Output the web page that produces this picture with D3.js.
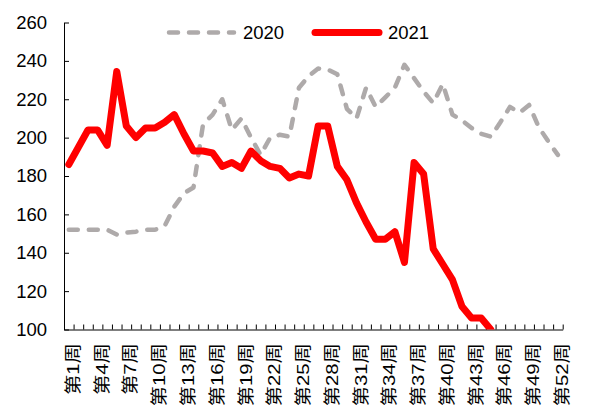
<!DOCTYPE html>
<html lang="zh">
<head>
<meta charset="utf-8">
<title>2020 vs 2021</title>
<script src="https://cdn.jsdelivr.net/npm/d3@7/dist/d3.min.js"></script>
<style>
  body { margin: 0; background: #fff; }
  svg text { font-family: "Liberation Sans", Arial, "Noto Sans CJK SC", sans-serif; fill: #000; }
</style>
</head>
<body>
<svg width="589" height="405"></svg>
<script>
// categories: weeks
var weeks = ["第1周","第2周","第3周","第4周","第5周","第6周","第7周","第8周","第9周","第10周",
  "第11周","第12周","第13周","第14周","第15周","第16周","第17周","第18周","第19周","第20周",
  "第21周","第22周","第23周","第24周","第25周","第26周","第27周","第28周","第29周","第30周",
  "第31周","第32周","第33周","第34周","第35周","第36周","第37周","第38周","第39周","第40周",
  "第41周","第42周","第43周","第44周","第45周","第46周","第47周","第48周","第49周","第50周",
  "第51周","第52周"];

var weekLabels = ["第1周","第4周","第7周","第10周","第13周","第16周","第19周","第22周","第25周",
  "第28周","第31周","第34周","第37周","第40周","第43周","第46周","第49周","第52周"];

var yTicks = [100, 120, 140, 160, 180, 200, 220, 240, 260];

var series2020 = [152, 152, 152, 152, 152, 149.5, 150.5, 151, 152, 152,
  154, 164, 171, 174, 207, 212, 220, 204, 210, 200,
  191, 200, 201.5, 200.5, 226, 232, 236, 235.5, 233, 215,
  210, 226, 216, 221, 226, 238, 231, 224, 218, 228,
  212, 209, 205, 202, 200.5, 208, 216, 213, 217, 205.5,
  198, 191];

var series2021 = [186, 195, 204, 204, 196, 234.5, 206, 200, 205, 205,
  208, 212, 202, 193, 193, 192, 185, 187, 184, 193,
  188, 185, 184, 179, 181, 180, 206, 206, 185, 178,
  166, 156, 147, 147, 151, 135, 187, 181, 142, 134,
  126, 112, 106, 106, 100];

var svg = d3.select("svg");
var plotLeft = 64, plotRight = 562.7, plotTop = 22.5, plotBottom = 329.5;

var x = d3.scaleBand().domain(weeks).range([plotLeft, plotRight]).padding(0);
var xb = d3.scaleLinear().domain([0, weeks.length]).range([plotLeft, plotRight]);
var y = d3.scaleLinear().domain([100, 260]).range([plotBottom, plotTop]);
var cx = function(w) { return x(w) + x.bandwidth() / 2; };

svg.append("defs").append("clipPath").attr("id", "plot")
  .append("rect").attr("x", plotLeft).attr("y", 0)
  .attr("width", plotRight - plotLeft + 10).attr("height", plotBottom);

// y axis, ticks inside
var gy = svg.append("g")
  .attr("transform", "translate(" + plotLeft + ",0)")
  .call(d3.axisLeft(y).tickValues(yTicks).tickSizeInner(-5).tickSizeOuter(0).tickPadding(17));
gy.selectAll("text").attr("font-size", "18.5px").attr("font-family", null);
gy.selectAll("line, path").attr("stroke", "#000");

// x axis, tick marks between categories
var gx = svg.append("g")
  .attr("transform", "translate(0," + plotBottom + ")")
  .call(d3.axisBottom(xb).tickValues(d3.range(0, weeks.length + 1)).tickSizeInner(-5).tickSizeOuter(0).tickFormat(""));
gx.selectAll("line, path").attr("stroke", "#000");

svg.append("g").selectAll("text")
  .data(weekLabels)
  .enter().append("text")
  .attr("transform", function(d) { return "translate(" + (cx(d) + 4) + ",343) rotate(-90) scale(1.2,1)"; })
  .attr("text-anchor", "end")
  .attr("dy", "0.36em")
  .attr("font-size", "17px")
  .text(function(d) { return d; });

var line = d3.line()
  .x(function(d, i) { return cx(weeks[i]); })
  .y(function(d) { return y(d); });

var plot = svg.append("g").attr("clip-path", "url(#plot)");

plot.append("path")
  .datum(series2020)
  .attr("fill", "none")
  .attr("stroke", "#aeaaaa")
  .attr("stroke-width", 4.5)
  .attr("stroke-dasharray", "9,11")
  .attr("stroke-linecap", "round")
  .attr("stroke-linejoin", "round")
  .attr("d", line);

plot.append("path")
  .datum(series2021)
  .attr("fill", "none")
  .attr("stroke", "#ff0000")
  .attr("stroke-width", 7)
  .attr("stroke-linecap", "round")
  .attr("stroke-linejoin", "round")
  .attr("d", line);

// legend
var legend = svg.append("g");
legend.append("line")
  .attr("x1", 169).attr("x2", 234).attr("y1", 32.5).attr("y2", 32.5)
  .attr("stroke", "#aeaaaa").attr("stroke-width", 4.5)
  .attr("stroke-dasharray", "9,11").attr("stroke-linecap", "round");
legend.append("text").attr("x", 243).attr("y", 39).attr("font-size", "18.5px").text("2020");
legend.append("line")
  .attr("x1", 315).attr("x2", 379).attr("y1", 32.5).attr("y2", 32.5)
  .attr("stroke", "#ff0000").attr("stroke-width", 7).attr("stroke-linecap", "round");
legend.append("text").attr("x", 388).attr("y", 39).attr("font-size", "18.5px").text("2021");
</script>
</body>
</html>
